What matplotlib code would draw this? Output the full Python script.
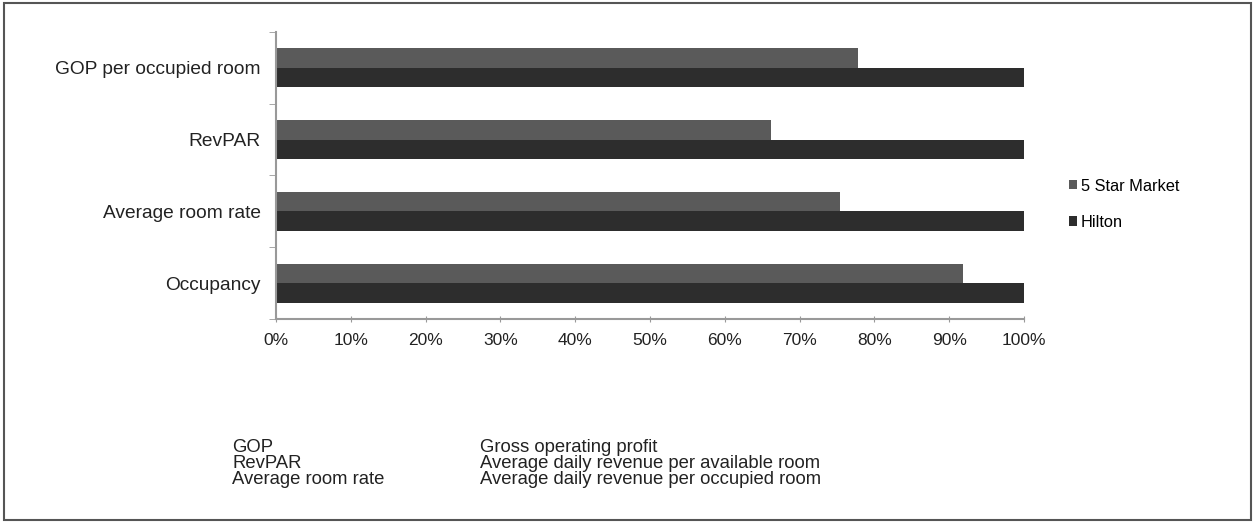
import matplotlib.pyplot as plt
import numpy as np

plt.rcParams['font.family'] = ['Liberation Sans', 'DejaVu Sans']

# du lieu
chiso = ['GOP per occupied room', 'RevPAR', 'Average room rate', 'Occupancy']
thitruong = [77.8, 66.1, 75.4, 91.8]
hilton = [100, 100, 100, 100]
xtick = [0, 10, 20, 30, 40, 50, 60, 70, 80, 90, 100]
chuthich = ['GOP', 'RevPAR', 'Average room rate']
giaithich = ['Gross operating profit',
             'Average daily revenue per available room',
             'Average daily revenue per occupied room']

fig = plt.figure(figsize=(12.55, 5.23), dpi=100)
ax = fig.add_axes([0.22, 0.39, 0.596, 0.549])

y = np.arange(len(chiso))
h = 0.27
ax.barh(y - h / 2, thitruong, height=h, color='#5a5a5a', label='5 Star Market')
ax.barh(y + h / 2, hilton, height=h, color='#2d2d2d', label='Hilton')

ax.set_xlim(0, 100)
ax.set_ylim(3.5, -0.5)
ax.set_xticks(xtick)
ax.set_xticklabels([str(v) + '%' for v in xtick], fontsize=12.5, color='#222222')
ax.set_yticks(y)
ax.set_yticklabels(chiso, fontsize=13.8, color='#222222')
ax.tick_params(axis='y', length=0, pad=11)
ax.set_yticks(np.arange(-0.5, 4, 1), minor=True)
ax.tick_params(axis='y', which='minor', length=5, color='#999999', direction='out')
ax.tick_params(axis='x', length=4, color='#999999', direction='inout', pad=8)
for s in ['top', 'right']:
    ax.spines[s].set_visible(False)
for s in ['left', 'bottom']:
    ax.spines[s].set_color('#999999')
    ax.spines[s].set_linewidth(1.5)

ax.legend(loc='center left', bbox_to_anchor=(1.04, 0.40), frameon=False,
          fontsize=11.8, handlelength=0.5, handleheight=0.5, handletextpad=0.25,
          labelspacing=1.3)

for i in range(len(chuthich)):
    fig.text(232 / 1255, 1 - (447 + 16 * i) / 523, chuthich[i], fontsize=13.3,
             color='#222222', va='center')
    fig.text(480 / 1255, 1 - (447 + 16 * i) / 523, giaithich[i], fontsize=13.3,
             color='#222222', va='center')

# khung ngoai
fig.patches.append(plt.Rectangle((0.003, 0.005), 0.994, 0.99, transform=fig.transFigure,
                                 fill=False, edgecolor='#555555', linewidth=1.5))

fig.savefig('out.png', dpi=100)
